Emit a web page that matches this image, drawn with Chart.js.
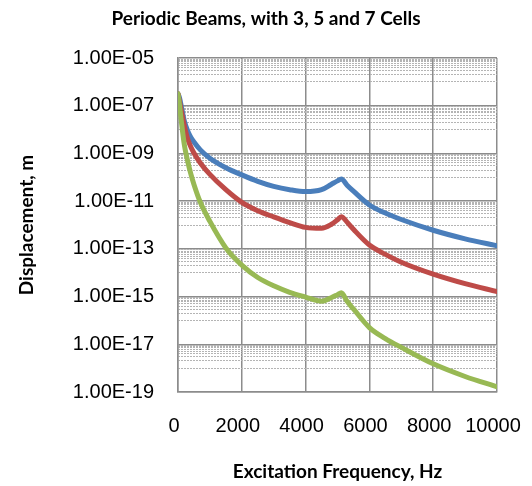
<!DOCTYPE html>
<html>
<head>
<meta charset="utf-8">
<script src="https://cdn.jsdelivr.net/npm/chart.js@4"></script>
<style>
    html, body { margin: 0; padding: 0; background: #fff; }
</style>
</head>
<body>
<canvas id="myChart" width="532" height="486"></canvas>
<script>
// Values (displacement given as log10 exponent)
const freqHz = [0, 50, 100, 200, 300, 400, 500, 700, 1000, 1500, 2000, 2500, 3000, 3500, 4000,
    4500, 4800, 5000, 5120, 5300, 5500, 6000, 6500, 7000, 8000, 9000, 10000];
const cells3Exp = [-6.5, -6.68, -7.0, -7.65, -8.05, -8.32, -8.52, -8.85, -9.2, -9.6, -9.9, -10.17, -10.38, -10.52, -10.6,
    -10.52, -10.3, -10.15, -10.07, -10.33, -10.58, -11.16, -11.5, -11.77, -12.22, -12.58, -12.87];
const cells5Exp = [-6.5, -6.85, -7.2, -7.85, -8.38, -8.72, -8.98, -9.4, -9.88, -10.52, -11.05, -11.4, -11.66, -11.9, -12.1,
    -12.14, -11.98, -11.78, -11.65, -11.88, -12.18, -12.84, -13.23, -13.56, -14.06, -14.46, -14.79];
const cells7Exp = [-6.5, -7.0, -7.6, -8.65, -9.3, -9.85, -10.3, -11.05, -11.85, -12.96, -13.68, -14.2, -14.55, -14.82, -15.02,
    -15.2, -15.05, -14.92, -14.84, -15.2, -15.52, -16.3, -16.76, -17.13, -17.82, -18.35, -18.78];

const yMajorTicks = [1e-19, 1e-17, 1e-15, 1e-13, 1e-11, 1e-9, 1e-7, 1e-5];
const yTickLabels = ["1.00E-19", "1.00E-17", "1.00E-15", "1.00E-13", "1.00E-11", "1.00E-09", "1.00E-07", "1.00E-05"];

// minor gridlines: 1..9 x 10^n in the upper decade of each band
let yMinorTicks = [];
for (let e = -18; e <= -6; e += 2) {
    for (let k = 1; k <= 9; k++) {
        yMinorTicks.push(k * Math.pow(10, e));
    }
}

const toPoints = (exps) => freqHz.map((f, i) => ({ x: f, y: Math.pow(10, exps[i]) }));

const lineSet = (label, exps, color, order) => ({
    label: label,
    data: toPoints(exps),
    borderColor: color,
    backgroundColor: color,
    borderWidth: 5,
    pointRadius: 0,
    borderJoinStyle: "round",
    borderCapStyle: "round",
    cubicInterpolationMode: "monotone",
    order: order
});

const gridGray = "#8c8c8c";
const tickFont = { family: "Liberation Sans", size: 20 };
const titleFont = { family: "Lato", size: 19, weight: "bold" };

const config = {
    type: "line",
    data: {
        datasets: [
            lineSet("3 Cells", cells3Exp, "#4a7ebb", 3),
            lineSet("5 Cells", cells5Exp, "#be4b48", 2),
            lineSet("7 Cells", cells7Exp, "#98b954", 1)
        ]
    },
    options: {
        responsive: false,
        animation: false,
        devicePixelRatio: 1,
        layout: { padding: 0 },
        plugins: {
            legend: { display: false },
            tooltip: { enabled: false },
            title: {
                display: true,
                text: "Periodic Beams, with 3, 5 and 7 Cells",
                font: titleFont,
                color: "#000",
                padding: { top: 7, bottom: 28.2 }
            }
        },
        scales: {
            x: {
                type: "linear",
                min: 0,
                max: 10000,
                ticks: {
                    stepSize: 2000,
                    font: tickFont,
                    color: "#000",
                    padding: 2,
                    labelOffset: -4,
                    maxRotation: 0,
                    autoSkip: false,
                    callback: (value) => String(value)
                },
                grid: { color: gridGray, lineWidth: 1.5, drawTicks: true, tickLength: 20, tickColor: "rgba(0,0,0,0)" },
                border: { color: gridGray, width: 1.5 },
                title: {
                    display: true,
                    text: "Excitation Frequency, Hz",
                    font: titleFont,
                    color: "#000",
                    padding: { top: 0, bottom: 3 }
                },
                afterFit: (scale) => { scale.height = 94; }
            },
            y: {
                type: "logarithmic",
                position: "left",
                min: 1e-19,
                max: 1e-5,
                afterBuildTicks: (scale) => {
                    scale.ticks = yMajorTicks.map(v => ({ value: v }));
                },
                ticks: {
                    font: tickFont,
                    color: "#000",
                    padding: 24,
                    callback: (value) => {
                        const idx = yMajorTicks.findIndex(v => Math.abs(Math.log10(v) - Math.log10(value)) < 1e-6);
                        return idx >= 0 ? yTickLabels[idx] : "";
                    }
                },
                grid: { color: gridGray, lineWidth: 1.5, drawTicks: false },
                border: { color: gridGray, width: 1.5 },
                title: {
                    display: true,
                    text: "Displacement, m",
                    font: titleFont,
                    color: "#000",
                    padding: { top: 15, bottom: 0 }
                },
                afterFit: (scale) => { scale.width = 178; }
            },
            yMinor: {
                type: "logarithmic",
                position: "left",
                min: 1e-19,
                max: 1e-5,
                afterBuildTicks: (scale) => {
                    scale.ticks = yMinorTicks.map(v => ({ value: v }));
                },
                ticks: { display: false },
                grid: { color: "#b4b4b4", lineWidth: 1, drawTicks: false, z: -1 },
                border: { display: false, dash: [2, 1] },
                afterFit: (scale) => { scale.width = 0; }
            },
            right: {
                type: "linear",
                position: "right",
                display: true,
                ticks: { display: false },
                grid: { display: false, drawTicks: false },
                border: { display: false },
                afterFit: (scale) => { scale.width = 35; }
            }
        }
    }
};

const myChart = new Chart(document.getElementById("myChart"), config);
</script>
</body>
</html>
